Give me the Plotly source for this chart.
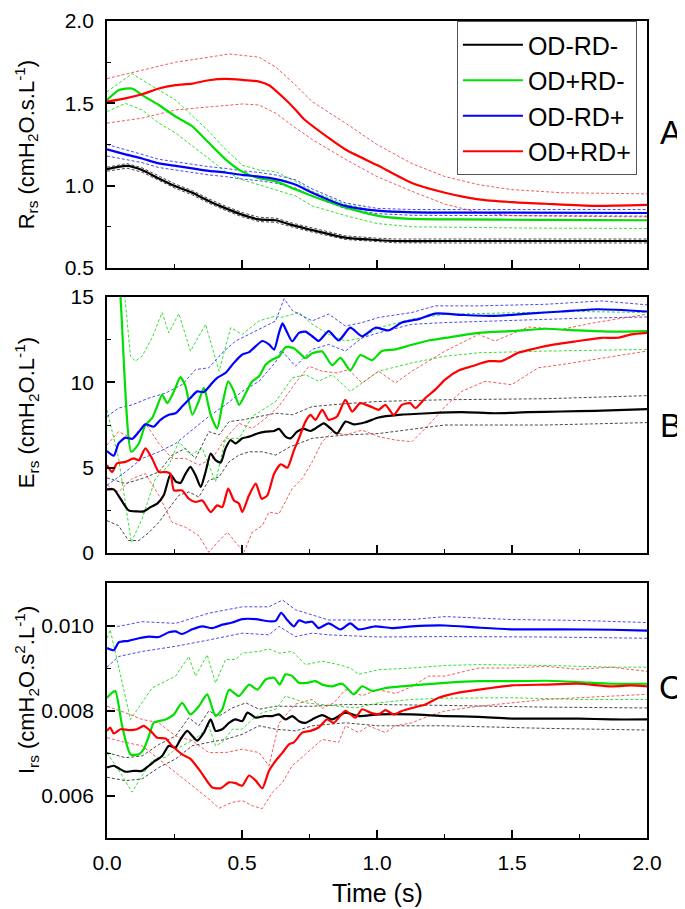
import plotly.graph_objects as go

# ---------------- Panel A : Rrs ----------------
A_black_t = [0, 0.074, 0.13, 0.19, 0.254, 0.316, 0.377, 0.44, 0.5, 0.563, 0.625, 0.687, 0.76, 0.883, 1.0, 1.07, 1.3, 1.6, 2.0]
A_black_mean = [1.10, 1.12, 1.095, 1.045, 0.996, 0.957, 0.907, 0.862, 0.824, 0.795, 0.79, 0.76, 0.73, 0.684, 0.67, 0.664, 0.664, 0.664, 0.664]
A_black_hi = [1.112, 1.134, 1.108, 1.058, 1.009, 0.970, 0.920, 0.875, 0.837, 0.808, 0.803, 0.772, 0.742, 0.695, 0.681, 0.676, 0.676, 0.676, 0.676]
A_black_lo = [1.088, 1.106, 1.082, 1.032, 0.983, 0.944, 0.894, 0.849, 0.811, 0.782, 0.777, 0.748, 0.718, 0.673, 0.659, 0.653, 0.652, 0.652, 0.652]

A_green_t = [0, 0.043, 0.093, 0.130, 0.192, 0.254, 0.316, 0.377, 0.439, 0.501, 0.563, 0.625, 0.699, 0.760, 0.883, 1.0, 1.105, 1.3, 1.6, 2.0]
A_green_mean = [1.52, 1.58, 1.59, 1.55, 1.49, 1.42, 1.36, 1.26, 1.16, 1.085, 1.045, 1.026, 0.976, 0.937, 0.868, 0.818, 0.80, 0.795, 0.792, 0.79]
A_green_hi_t = [0, 0.093, 0.192, 0.254, 0.377, 0.439, 0.501, 0.563, 0.625, 0.699, 0.760, 0.883, 1.0, 1.2, 1.6, 2.0]
A_green_hi = [1.57, 1.68, 1.58, 1.52, 1.33, 1.22, 1.125, 1.095, 1.085, 1.026, 0.966, 0.887, 0.848, 0.84, 0.838, 0.838]
A_green_lo_t = [0, 0.068, 0.130, 0.192, 0.254, 0.316, 0.377, 0.439, 0.501, 0.563, 0.625, 0.699, 0.760, 0.883, 1.0, 1.13, 1.6, 2.0]
A_green_lo = [1.45, 1.50, 1.46, 1.38, 1.32, 1.24, 1.16, 1.085, 1.036, 1.006, 0.976, 0.937, 0.877, 0.818, 0.77, 0.75, 0.742, 0.74]

A_blue_t = [0, 0.068, 0.130, 0.192, 0.254, 0.316, 0.377, 0.439, 0.501, 0.563, 0.625, 0.699, 0.760, 0.883, 1.0, 1.13, 1.5, 2.0]
A_blue_mean = [1.22, 1.19, 1.165, 1.135, 1.12, 1.105, 1.09, 1.08, 1.065, 1.055, 1.04, 1.006, 0.957, 0.877, 0.848, 0.838, 0.836, 0.834]
A_blue_hi = [1.25, 1.22, 1.19, 1.16, 1.145, 1.13, 1.115, 1.105, 1.09, 1.08, 1.065, 1.035, 0.98, 0.895, 0.862, 0.855, 0.855, 0.855]
A_blue_lo = [1.18, 1.16, 1.14, 1.11, 1.095, 1.08, 1.065, 1.055, 1.04, 1.03, 1.015, 0.985, 0.935, 0.86, 0.83, 0.82, 0.817, 0.815]

A_red_t = [0, 0.068, 0.130, 0.192, 0.254, 0.316, 0.377, 0.439, 0.501, 0.563, 0.600, 0.650, 0.699, 0.729, 0.821, 0.883, 1.0, 1.129, 1.252, 1.376, 1.499, 1.622, 1.807, 2.0]
A_red_mean = [1.51, 1.53, 1.555, 1.59, 1.61, 1.62, 1.64, 1.648, 1.642, 1.632, 1.61, 1.54, 1.46, 1.405, 1.29, 1.22, 1.125, 1.016, 0.957, 0.917, 0.90, 0.89, 0.877, 0.883]
A_red_hi_t = [0, 0.130, 0.254, 0.377, 0.452, 0.563, 0.625, 0.699, 0.760, 0.883, 1.0, 1.129, 1.252, 1.376, 1.499, 1.683, 2.0]
A_red_hi = [1.65, 1.70, 1.75, 1.78, 1.80, 1.78, 1.72, 1.61, 1.51, 1.38, 1.25, 1.134, 1.055, 1.006, 0.976, 0.957, 0.95]
A_red_lo_t = [0, 0.130, 0.254, 0.377, 0.501, 0.563, 0.625, 0.699, 0.760, 0.883, 1.0, 1.129, 1.252, 1.376, 1.499, 2.0]
A_red_lo = [1.38, 1.41, 1.46, 1.48, 1.496, 1.49, 1.44, 1.35, 1.28, 1.16, 1.055, 0.966, 0.887, 0.838, 0.818, 0.81]

# ---------------- Panel B : Ers ----------------
B_black_t = [0, 0.025, 0.050, 0.080, 0.111, 0.136, 0.161, 0.186, 0.210, 0.235, 0.254, 0.272, 0.291, 0.309, 0.328, 0.347, 0.365, 0.384, 0.402, 0.421, 0.439, 0.458, 0.476, 0.501, 0.526, 0.557, 0.588, 0.619, 0.637, 0.661, 0.680, 0.704, 0.729, 0.754, 0.772, 0.803, 0.828, 0.852, 0.883, 0.914, 0.957, 1.006, 1.080, 1.191, 1.314, 1.437, 1.560, 1.683, 1.807, 2.0]
B_black_mean = [3.73, 3.73, 3.18, 2.50, 2.44, 2.44, 2.69, 2.89, 3.38, 4.60, 4.20, 4.10, 4.65, 5.05, 4.56, 3.87, 4.75, 5.83, 5.44, 5.30, 6.13, 6.62, 6.42, 6.72, 6.82, 7.00, 7.11, 7.15, 7.27, 6.82, 6.72, 7.11, 7.27, 7.15, 7.30, 7.60, 7.30, 7.00, 7.70, 7.54, 7.66, 7.94, 8.09, 8.19, 8.25, 8.19, 8.25, 8.29, 8.33, 8.43]
B_black_hi_t = [0, 0.068, 0.130, 0.192, 0.241, 0.291, 0.328, 0.377, 0.415, 0.452, 0.501, 0.563, 0.625, 0.687, 0.760, 0.883, 1.006, 1.252, 1.622, 2.0]
B_black_hi = [4.40, 4.07, 4.36, 4.75, 5.74, 6.13, 5.54, 7.11, 6.92, 7.70, 7.80, 8.00, 8.19, 8.10, 8.58, 8.75, 8.88, 8.98, 9.04, 9.22]
B_black_lo_t = [0, 0.043, 0.080, 0.118, 0.155, 0.192, 0.229, 0.266, 0.303, 0.340, 0.377, 0.415, 0.452, 0.489, 0.526, 0.575, 0.625, 0.675, 0.760, 0.883, 1.006, 1.252, 1.622, 2.0]
B_black_lo = [1.90, 1.60, 0.73, 0.73, 1.20, 1.80, 2.60, 3.38, 3.58, 3.28, 4.26, 4.46, 5.34, 5.74, 5.93, 5.93, 5.74, 6.20, 6.72, 6.92, 7.00, 7.50, 7.50, 7.64]

B_green_t = [0, 0.043, 0.090, 0.118, 0.142, 0.167, 0.186, 0.204, 0.223, 0.248, 0.272, 0.291, 0.316, 0.340, 0.359, 0.384, 0.408, 0.427, 0.449, 0.470, 0.489, 0.514, 0.538, 0.563, 0.588, 0.613, 0.637, 0.661, 0.692, 0.735, 0.760, 0.797, 0.834, 0.865, 0.901, 0.938, 0.982, 1.018, 1.068, 1.129, 1.191, 1.252, 1.376, 1.499, 1.622, 1.745, 1.868, 2.0]
B_green_mean = [20.0, 16.5, 5.93, 6.42, 7.50, 7.90, 8.60, 9.27, 8.78, 9.47, 10.30, 9.76, 8.10, 8.90, 9.67, 8.10, 7.30, 8.68, 10.06, 9.47, 8.68, 9.37, 10.06, 10.35, 11.04, 11.34, 11.50, 12.06, 12.00, 11.43, 11.70, 11.80, 11.00, 11.43, 10.70, 11.60, 11.30, 11.83, 11.93, 12.20, 12.45, 12.60, 12.90, 13.00, 13.14, 13.04, 12.97, 13.00]
B_green_hi_t = [0, 0.060, 0.087, 0.105, 0.130, 0.167, 0.204, 0.229, 0.266, 0.309, 0.365, 0.415, 0.458, 0.501, 0.563, 0.625, 0.645, 0.711, 0.760, 0.821, 0.883, 0.945, 1.006, 1.129, 1.252, 1.499, 1.745, 2.0]
B_green_hi = [20.0, 16.0, 11.53, 11.24, 11.53, 12.61, 14.09, 12.90, 14.03, 11.83, 13.40, 10.65, 13.20, 12.81, 13.60, 13.89, 13.80, 14.09, 13.40, 12.81, 12.42, 12.60, 13.20, 13.70, 13.99, 14.09, 14.15, 14.09]
B_green_lo_t = [0, 0.043, 0.090, 0.130, 0.179, 0.229, 0.266, 0.309, 0.353, 0.402, 0.439, 0.489, 0.538, 0.588, 0.625, 0.686, 0.735, 0.784, 0.834, 0.901, 0.945, 1.006, 1.129, 1.252, 1.376, 1.622, 2.0]
B_green_lo = [8.39, 5.54, 0.63, 2.00, 4.36, 5.15, 6.52, 5.74, 6.13, 4.17, 6.72, 6.72, 8.00, 8.49, 8.88, 10.26, 10.45, 10.06, 10.45, 9.47, 9.96, 10.65, 11.14, 11.53, 11.73, 11.83, 11.93]

B_blue_t = [0, 0.025, 0.043, 0.068, 0.093, 0.118, 0.142, 0.173, 0.198, 0.229, 0.254, 0.278, 0.309, 0.334, 0.359, 0.384, 0.408, 0.439, 0.470, 0.501, 0.526, 0.551, 0.575, 0.600, 0.619, 0.637, 0.650, 0.665, 0.686, 0.711, 0.735, 0.760, 0.784, 0.821, 0.858, 0.901, 0.945, 0.994, 1.043, 1.092, 1.154, 1.216, 1.314, 1.437, 1.560, 1.683, 1.819, 2.0]
B_blue_mean = [5.97, 5.70, 6.42, 6.76, 6.68, 7.10, 7.54, 7.40, 7.80, 8.10, 8.19, 8.58, 9.08, 9.47, 9.43, 9.86, 10.26, 10.55, 11.14, 11.63, 11.77, 12.12, 12.42, 12.22, 11.92, 12.90, 13.45, 13.00, 12.40, 12.90, 12.97, 12.70, 12.42, 13.00, 12.45, 13.20, 12.70, 13.20, 13.04, 13.50, 13.70, 14.03, 13.95, 13.89, 14.03, 14.15, 14.28, 14.15]
B_blue_hi_t = [0, 0.043, 0.093, 0.155, 0.217, 0.278, 0.328, 0.377, 0.427, 0.476, 0.526, 0.575, 0.625, 0.656, 0.687, 0.760, 0.821, 0.883, 0.945, 1.006, 1.129, 1.216, 1.376, 1.622, 1.831, 2.0]
B_blue_hi = [8.00, 8.49, 8.68, 9.08, 9.37, 9.86, 10.75, 10.85, 11.73, 12.42, 12.81, 13.20, 13.60, 14.90, 14.20, 13.60, 14.00, 13.30, 13.50, 13.80, 14.09, 14.48, 14.48, 14.57, 14.77, 14.54]
B_blue_lo_t = [0, 0.068, 0.130, 0.192, 0.254, 0.316, 0.377, 0.439, 0.501, 0.563, 0.625, 0.645, 0.698, 0.760, 0.821, 0.883, 0.945, 1.006, 1.129, 1.252, 1.499, 1.745, 2.0]
B_blue_lo = [3.97, 4.75, 5.54, 5.93, 6.42, 7.21, 8.00, 8.68, 9.47, 10.06, 11.20, 11.90, 10.94, 11.93, 12.22, 11.83, 12.61, 12.90, 13.40, 13.50, 13.63, 13.75, 13.83]

B_red_t = [0, 0.019, 0.037, 0.068, 0.099, 0.118, 0.142, 0.167, 0.192, 0.217, 0.235, 0.248, 0.278, 0.303, 0.328, 0.353, 0.384, 0.408, 0.427, 0.449, 0.470, 0.489, 0.501, 0.526, 0.551, 0.573, 0.594, 0.619, 0.644, 0.668, 0.692, 0.711, 0.735, 0.754, 0.772, 0.797, 0.821, 0.852, 0.883, 0.908, 0.938, 0.975, 1.006, 1.031, 1.062, 1.092, 1.123, 1.142, 1.179, 1.216, 1.252, 1.302, 1.351, 1.413, 1.462, 1.523, 1.585, 1.659, 1.745, 1.831, 1.893, 1.942, 2.0]
B_red_mean = [5.15, 4.75, 5.25, 5.34, 5.54, 5.44, 6.13, 5.54, 4.75, 4.75, 4.65, 3.67, 3.67, 3.18, 2.99, 3.08, 2.40, 2.79, 2.69, 3.77, 3.08, 2.89, 2.40, 3.38, 4.07, 3.18, 3.38, 4.65, 5.20, 5.00, 6.00, 6.72, 7.70, 8.09, 7.80, 8.39, 7.80, 8.00, 8.98, 8.29, 8.78, 8.59, 8.39, 8.68, 8.09, 8.68, 8.78, 8.49, 9.08, 9.57, 10.16, 10.69, 10.94, 11.24, 11.24, 11.73, 11.98, 12.22, 12.42, 12.61, 12.61, 12.81, 12.90]
B_red_hi_t = [0, 0.043, 0.093, 0.142, 0.192, 0.241, 0.291, 0.340, 0.390, 0.439, 0.489, 0.538, 0.588, 0.637, 0.698, 0.748, 0.797, 0.852, 0.895, 0.945, 1.006, 1.068, 1.129, 1.191, 1.252, 1.314, 1.376, 1.437, 1.499, 1.560, 1.683, 1.807, 2.0]
B_red_hi = [6.33, 7.11, 6.72, 7.60, 6.42, 5.54, 5.54, 5.15, 5.54, 6.72, 7.60, 7.30, 7.90, 8.60, 9.96, 10.94, 10.65, 10.55, 10.75, 9.96, 10.65, 9.96, 10.65, 11.24, 11.83, 12.32, 12.81, 12.42, 12.81, 13.24, 13.10, 13.50, 13.99]
B_red_lo_t = [0, 0.043, 0.093, 0.142, 0.192, 0.241, 0.291, 0.340, 0.377, 0.415, 0.446, 0.476, 0.507, 0.538, 0.575, 0.600, 0.637, 0.686, 0.723, 0.760, 0.797, 0.834, 0.883, 0.945, 1.006, 1.068, 1.129, 1.191, 1.252, 1.314, 1.400, 1.499, 1.597, 1.683, 1.807, 2.0]
B_red_lo = [3.97, 3.58, 4.36, 4.65, 3.38, 1.80, 1.51, 1.02, 0.04, 0.73, 1.22, 0.63, 0.04, 1.22, 1.60, 2.40, 2.30, 3.77, 4.36, 5.34, 6.52, 7.11, 6.92, 7.20, 6.82, 6.62, 6.52, 7.50, 8.58, 9.47, 10.06, 9.86, 10.85, 11.04, 11.34, 11.83]

# ---------------- Panel C : Irs ----------------
C_black_t = [0, 0.025, 0.043, 0.068, 0.099, 0.130, 0.155, 0.179, 0.204, 0.229, 0.254, 0.272, 0.297, 0.316, 0.334, 0.359, 0.384, 0.402, 0.427, 0.452, 0.476, 0.501, 0.520, 0.551, 0.582, 0.613, 0.637, 0.661, 0.686, 0.711, 0.735, 0.760, 0.797, 0.834, 0.883, 0.932, 1.006, 1.129, 1.252, 1.376, 1.499, 1.622, 1.745, 1.868, 2.0]
C_black_mean = [0.00666, 0.00670, 0.00664, 0.00656, 0.00658, 0.00658, 0.00670, 0.00682, 0.00693, 0.00717, 0.00713, 0.00732, 0.00752, 0.00740, 0.00729, 0.00748, 0.00779, 0.00752, 0.00756, 0.00771, 0.00779, 0.00775, 0.00795, 0.00783, 0.00787, 0.00787, 0.00791, 0.00779, 0.00787, 0.00775, 0.00771, 0.00779, 0.00789, 0.00779, 0.00795, 0.00787, 0.00791, 0.00791, 0.00787, 0.00785, 0.00781, 0.00781, 0.00781, 0.00779, 0.00779]
C_black_hi_t = [0, 0.068, 0.130, 0.192, 0.254, 0.303, 0.340, 0.377, 0.415, 0.464, 0.514, 0.563, 0.625, 0.699, 0.760, 0.883, 1.006, 1.252, 1.622, 2.0]
C_black_hi = [0.00701, 0.00689, 0.00693, 0.00720, 0.00740, 0.00783, 0.00764, 0.00799, 0.00787, 0.00806, 0.00818, 0.00803, 0.00810, 0.00810, 0.00810, 0.00814, 0.00814, 0.00812, 0.00808, 0.00806]
C_black_lo_t = [0, 0.068, 0.130, 0.192, 0.254, 0.316, 0.377, 0.439, 0.501, 0.563, 0.625, 0.699, 0.760, 0.883, 1.006, 1.252, 1.622, 2.0]
C_black_lo = [0.00643, 0.00635, 0.00639, 0.00666, 0.00686, 0.00717, 0.00725, 0.00732, 0.00744, 0.00764, 0.00756, 0.00752, 0.00764, 0.00771, 0.00764, 0.00764, 0.00758, 0.00754]

C_green_t = [0, 0.019, 0.031, 0.056, 0.087, 0.118, 0.136, 0.155, 0.173, 0.192, 0.217, 0.248, 0.278, 0.309, 0.340, 0.371, 0.402, 0.427, 0.452, 0.489, 0.526, 0.557, 0.588, 0.619, 0.640, 0.661, 0.686, 0.711, 0.741, 0.772, 0.797, 0.834, 0.871, 0.914, 0.945, 0.982, 1.031, 1.129, 1.252, 1.376, 1.499, 1.622, 1.745, 1.868, 2.0]
C_green_mean = [0.00830, 0.00842, 0.00846, 0.00764, 0.00697, 0.00697, 0.00709, 0.00740, 0.00771, 0.00775, 0.00779, 0.00791, 0.00818, 0.00791, 0.00810, 0.00838, 0.00787, 0.00803, 0.00849, 0.00834, 0.00861, 0.00849, 0.00873, 0.00877, 0.00861, 0.00885, 0.00881, 0.00865, 0.00865, 0.00869, 0.00861, 0.00857, 0.00863, 0.00838, 0.00857, 0.00846, 0.00853, 0.00859, 0.00865, 0.00869, 0.00869, 0.00870, 0.00867, 0.00863, 0.00863]
C_green_hi_t = [0, 0.012, 0.087, 0.167, 0.254, 0.303, 0.328, 0.371, 0.402, 0.439, 0.476, 0.501, 0.563, 0.600, 0.637, 0.686, 0.735, 0.797, 0.858, 0.901, 0.932, 1.006, 1.129, 1.252, 1.376, 1.622, 1.868, 2.0]
C_green_hi = [0.00970, 0.00990, 0.00779, 0.00853, 0.00881, 0.00927, 0.00881, 0.00931, 0.00865, 0.00920, 0.00920, 0.00935, 0.00939, 0.00945, 0.00935, 0.00939, 0.00908, 0.00916, 0.00908, 0.00900, 0.00885, 0.00896, 0.00900, 0.00906, 0.00908, 0.00906, 0.00902, 0.00902]
C_green_lo_t = [0, 0.043, 0.093, 0.130, 0.167, 0.217, 0.254, 0.303, 0.340, 0.377, 0.402, 0.427, 0.464, 0.501, 0.538, 0.575, 0.625, 0.661, 0.735, 0.797, 0.858, 0.920, 1.006, 1.129, 1.252, 1.499, 1.745, 2.0]
C_green_lo = [0.00700, 0.00660, 0.00608, 0.00647, 0.00682, 0.00690, 0.00709, 0.00725, 0.00740, 0.00764, 0.00717, 0.00725, 0.00756, 0.00756, 0.00779, 0.00795, 0.00803, 0.00834, 0.00818, 0.00814, 0.00810, 0.00806, 0.00818, 0.00826, 0.00829, 0.00830, 0.00826, 0.00826]

C_blue_t = [0, 0.025, 0.043, 0.080, 0.118, 0.155, 0.192, 0.229, 0.254, 0.278, 0.316, 0.353, 0.390, 0.427, 0.464, 0.501, 0.551, 0.600, 0.625, 0.645, 0.665, 0.692, 0.711, 0.735, 0.760, 0.784, 0.821, 0.865, 0.901, 0.932, 0.994, 1.055, 1.129, 1.252, 1.376, 1.499, 1.683, 1.868, 2.0]
C_blue_mean = [0.00947, 0.00942, 0.00960, 0.00964, 0.00970, 0.00974, 0.00973, 0.00984, 0.00986, 0.00980, 0.00991, 0.00998, 0.00994, 0.01002, 0.01007, 0.01015, 0.01015, 0.01010, 0.01011, 0.01030, 0.01015, 0.00998, 0.01012, 0.01007, 0.01009, 0.00994, 0.01005, 0.00991, 0.01005, 0.00991, 0.00998, 0.00994, 0.00998, 0.01000, 0.00995, 0.00991, 0.00991, 0.00990, 0.00988]
C_blue_hi_t = [0, 0.043, 0.130, 0.254, 0.377, 0.501, 0.600, 0.650, 0.698, 0.760, 0.821, 0.945, 1.129, 1.252, 1.499, 1.745, 2.0]
C_blue_hi = [0.01000, 0.00998, 0.01009, 0.01005, 0.01029, 0.01044, 0.01044, 0.01060, 0.01037, 0.01025, 0.01013, 0.01013, 0.01014, 0.01021, 0.01014, 0.01012, 0.01007]
C_blue_lo_t = [0, 0.043, 0.130, 0.254, 0.377, 0.501, 0.600, 0.637, 0.698, 0.760, 0.821, 0.945, 1.006, 1.252, 1.622, 2.0]
C_blue_lo = [0.00902, 0.00927, 0.00939, 0.00951, 0.00966, 0.00982, 0.00978, 0.00998, 0.00974, 0.00982, 0.00978, 0.00974, 0.00973, 0.00974, 0.00973, 0.00970]

C_red_t = [0, 0.012, 0.025, 0.050, 0.080, 0.111, 0.136, 0.161, 0.186, 0.217, 0.241, 0.278, 0.309, 0.340, 0.365, 0.390, 0.421, 0.452, 0.476, 0.501, 0.526, 0.551, 0.575, 0.600, 0.625, 0.650, 0.675, 0.692, 0.723, 0.754, 0.784, 0.815, 0.840, 0.883, 0.920, 0.945, 0.975, 1.006, 1.031, 1.062, 1.092, 1.129, 1.179, 1.228, 1.302, 1.376, 1.499, 1.622, 1.745, 1.868, 1.942, 2.0]
C_red_mean = [0.00752, 0.00760, 0.00746, 0.00756, 0.00754, 0.00756, 0.00764, 0.00752, 0.00736, 0.00734, 0.00717, 0.00697, 0.00686, 0.00662, 0.00639, 0.00619, 0.00617, 0.00631, 0.00629, 0.00623, 0.00647, 0.00635, 0.00617, 0.00658, 0.00682, 0.00701, 0.00721, 0.00725, 0.00748, 0.00752, 0.00760, 0.00779, 0.00771, 0.00799, 0.00783, 0.00803, 0.00795, 0.00791, 0.00801, 0.00791, 0.00799, 0.00806, 0.00814, 0.00830, 0.00842, 0.00849, 0.00859, 0.00861, 0.00863, 0.00857, 0.00859, 0.00857]
C_red_hi_t = [0, 0.068, 0.130, 0.192, 0.254, 0.316, 0.377, 0.439, 0.501, 0.563, 0.600, 0.637, 0.698, 0.760, 0.797, 0.840, 0.883, 0.945, 1.006, 1.068, 1.129, 1.191, 1.252, 1.376, 1.499, 1.622, 1.745, 1.868, 2.0]
C_red_hi = [0.00810, 0.00795, 0.00779, 0.00771, 0.00740, 0.00729, 0.00701, 0.00701, 0.00709, 0.00701, 0.00670, 0.00770, 0.00815, 0.00826, 0.00805, 0.00818, 0.00849, 0.00835, 0.00849, 0.00840, 0.00856, 0.00881, 0.00881, 0.00900, 0.00900, 0.00904, 0.00897, 0.00902, 0.00892]
C_red_lo_t = [0, 0.068, 0.130, 0.192, 0.254, 0.316, 0.377, 0.415, 0.464, 0.501, 0.538, 0.575, 0.613, 0.650, 0.686, 0.735, 0.797, 0.858, 0.883, 0.932, 0.969, 1.031, 1.068, 1.129, 1.191, 1.252, 1.376, 1.499, 1.622, 1.745, 1.868, 2.0]
C_red_lo = [0.00736, 0.00725, 0.00717, 0.00686, 0.00655, 0.00623, 0.00592, 0.00570, 0.00584, 0.00588, 0.00576, 0.00569, 0.00608, 0.00631, 0.00670, 0.00697, 0.00732, 0.00725, 0.00764, 0.00748, 0.00764, 0.00748, 0.00764, 0.00771, 0.00787, 0.00799, 0.00810, 0.00818, 0.00826, 0.00830, 0.00834, 0.00838]

group_names = ["OD-RD-", "OD+RD-", "OD-RD+", "OD+RD+"]
x_ticks = [0.0, 0.5, 1.0, 1.5, 2.0]

# ---------------- styling ----------------
FONT = "Liberation Sans, Arial, sans-serif"
SOLID = {"black": "#000000", "green": "#00E000", "blue": "#0000FF", "red": "#FF0000"}
DASH = {"black": "rgba(40,40,40,0.85)", "green": "rgba(0,215,0,0.8)",
        "blue": "rgba(30,30,235,0.8)", "red": "rgba(240,50,50,0.8)"}
ORDER = ["black", "green", "blue", "red"]

panels = {
    "A": {"axes": ("x3", "y3"),
          "black": ((A_black_t, A_black_mean), (A_black_t, A_black_hi), (A_black_t, A_black_lo)),
          "green": ((A_green_t, A_green_mean), (A_green_hi_t, A_green_hi), (A_green_lo_t, A_green_lo)),
          "blue": ((A_blue_t, A_blue_mean), (A_blue_t, A_blue_hi), (A_blue_t, A_blue_lo)),
          "red": ((A_red_t, A_red_mean), (A_red_hi_t, A_red_hi), (A_red_lo_t, A_red_lo))},
    "B": {"axes": ("x2", "y2"),
          "black": ((B_black_t, B_black_mean), (B_black_hi_t, B_black_hi), (B_black_lo_t, B_black_lo)),
          "green": ((B_green_t, B_green_mean), (B_green_hi_t, B_green_hi), (B_green_lo_t, B_green_lo)),
          "blue": ((B_blue_t, B_blue_mean), (B_blue_hi_t, B_blue_hi), (B_blue_lo_t, B_blue_lo)),
          "red": ((B_red_t, B_red_mean), (B_red_hi_t, B_red_hi), (B_red_lo_t, B_red_lo))},
    "C": {"axes": ("x", "y"),
          "black": ((C_black_t, C_black_mean), (C_black_hi_t, C_black_hi), (C_black_lo_t, C_black_lo)),
          "green": ((C_green_t, C_green_mean), (C_green_hi_t, C_green_hi), (C_green_lo_t, C_green_lo)),
          "blue": ((C_blue_t, C_blue_mean), (C_blue_hi_t, C_blue_hi), (C_blue_lo_t, C_blue_lo)),
          "red": ((C_red_t, C_red_mean), (C_red_hi_t, C_red_hi), (C_red_lo_t, C_red_lo))},
}

fig = go.Figure()

for pname, p in panels.items():
    xa, ya = p["axes"]
    for col in ORDER:
        for (tt, vv) in p[col][1:]:
            fig.add_trace(go.Scatter(x=tt, y=vv, mode="lines", xaxis=xa, yaxis=ya,
                                     line=dict(color=DASH[col], width=1, dash="3px,2px"),
                                     showlegend=False, hoverinfo="skip"))
    for i, col in enumerate(ORDER):
        tt, vv = p[col][0]
        fig.add_trace(go.Scatter(x=tt, y=vv, mode="lines", xaxis=xa, yaxis=ya,
                                 line=dict(color=SOLID[col], width=2.2, shape="spline", smoothing=0.6),
                                 name=group_names[i],
                                 showlegend=(pname == "A"), legendrank=i + 1))

axis_common = dict(showline=True, linecolor="black", linewidth=1.8, mirror=True,
                   showgrid=False, zeroline=False, ticks="inside", ticklen=8,
                   tickwidth=1.5, tickcolor="black", automargin=False,
                   ticklabeloverflow="allow",
                   tickfont=dict(family=FONT, size=21, color="black"))

xcommon = dict(axis_common, range=[0, 2], tickvals=x_ticks, tickformat=".1f",
               ticklabelstandoff=5,
               minor=dict(ticks="inside", ticklen=4, tickwidth=1.2, tickcolor="black",
                          dtick=0.25, tick0=0, showgrid=False))
ycommon = dict(axis_common, ticklabelstandoff=7)

# The page body keeps an 8px default margin, so the figure is 8px smaller and
# its margins are 8px smaller to put the plot area on the reference pixels.
fig.update_layout(
    width=677, height=901,
    margin=dict(l=99, r=38, t=13, b=71, autoexpand=False),
    paper_bgcolor="white", plot_bgcolor="white",
    font=dict(family=FONT, color="black"),
    xaxis=dict(xcommon, anchor="y", domain=[0, 1]),
    xaxis2=dict(xcommon, anchor="y2", domain=[0, 1], matches="x", showticklabels=False),
    xaxis3=dict(xcommon, anchor="y3", domain=[0, 1], matches="x", showticklabels=False),
    yaxis=dict(ycommon, anchor="x", domain=[0, 0.3121], range=[0.005, 0.011],
               tick0=0.006, dtick=0.002, tickformat=".3f",
               minor=dict(ticks="inside", ticklen=4, tickwidth=1.2, tickcolor="black",
                          dtick=0.001, tick0=0.005, showgrid=False)),
    yaxis2=dict(ycommon, anchor="x2", domain=[0.3488, 0.6622], range=[0, 15],
                tick0=0, dtick=5,
                minor=dict(ticks="inside", ticklen=4, tickwidth=1.2, tickcolor="black",
                           dtick=2.5, tick0=0, showgrid=False)),
    yaxis3=dict(ycommon, anchor="x3", domain=[0.6977, 1.0], range=[0.5, 2.0],
                tick0=0.5, dtick=0.5, tickformat=".1f",
                minor=dict(ticks="inside", ticklen=4, tickwidth=1.2, tickcolor="black",
                           dtick=0.25, tick0=0.5, showgrid=False)),
    legend=dict(x=0.648, y=1.0, xanchor="left", yanchor="top",
                bgcolor="white", bordercolor="#555555", borderwidth=1,
                font=dict(family=FONT, size=25, color="black"),
                itemwidth=60, tracegroupgap=0),
    showlegend=True,
)

ann = []
ytitles = [
    ("R<sub>rs</sub> (cmH<sub>2</sub>O.s.L<sup>-1</sup>)", 0.849),
    ("E<sub>rs</sub> (cmH<sub>2</sub>O.L<sup>-1</sup>)", 0.520),
    ("I<sub>rs</sub> (cmH<sub>2</sub>O.s<sup>2</sup>.L<sup>-1</sup>)", 0.181),
]
for txt, yc in ytitles:
    ann.append(dict(text=txt, xref="paper", yref="paper", x=-0.150, y=yc,
                    xanchor="center", yanchor="middle", textangle=-90, showarrow=False,
                    font=dict(family=FONT, size=22, color="black")))
for letter, yc in [("A", 0.863), ("B", 0.5055), ("C", 0.1848)]:
    ann.append(dict(text=letter, xref="paper", yref="paper", x=1.044, y=yc,
                    xanchor="center", yanchor="middle", showarrow=False,
                    font=dict(family=FONT, size=33, color="black")))
ann.append(dict(text="Time (s)", xref="paper", yref="paper", x=0.5, y=-0.0673,
                xanchor="center", yanchor="middle", showarrow=False,
                font=dict(family=FONT, size=25, color="black")))
fig.update_layout(annotations=ann)

fig.write_html("out.html")
